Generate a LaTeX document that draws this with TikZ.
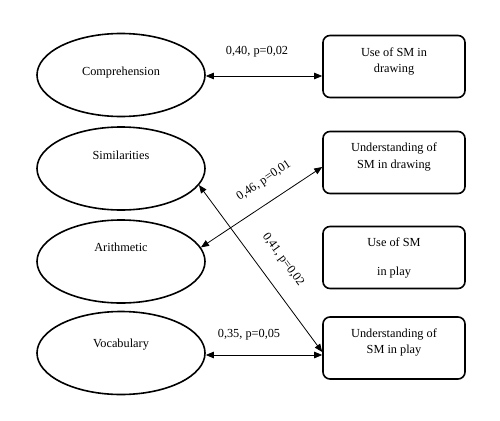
\documentclass[tikz,border=0pt]{standalone}
\usepackage{fontspec}
\setmainfont{Liberation Serif}
\usetikzlibrary{shapes.geometric,arrows.meta}
\begin{document}
\begin{tikzpicture}[x=1pt,y=-1pt,
  oval/.style={draw,line width=1.6pt,ellipse,minimum width=168pt,minimum height=83pt,inner sep=0pt},
  rbox/.style={draw,line width=1.6pt,rounded corners=7pt,minimum width=142pt,minimum height=62pt,inner sep=0pt},
  txt/.style={font=\fontsize{12.3}{16.5}\selectfont,align=center,inner sep=0pt},
  lbl/.style={font=\fontsize{12.3}{14}\selectfont,inner sep=0pt},
  link/.style={line width=0.8pt,{Triangle[length=8pt,width=6.5pt]}-{Triangle[length=8pt,width=6.5pt]}}]
\useasboundingbox (0,0) rectangle (500,420);
% ellipses
\node[oval] (comp) at (121,75) {};
\node[oval] (sim) at (121,168.5) {};
\node[oval] (arith) at (121,261.5) {};
\node[oval] (voc) at (121,353) {};
\node[txt] (compt) at (121,73) {Comprehension};
\node[txt] (simt) at (121,155) {Similarities};
\node[txt] (aritht) at (121,247) {Arithmetic};
\node[txt] (voct) at (121,345) {Vocabulary};
% boxes
\node[rbox] (b1) at (394,66.5) {};
\node[rbox] (b2) at (394,162.5) {};
\node[rbox] (b3) at (394,257.5) {};
\node[rbox] (b4) at (394,348) {};
\node[txt] (b1t) at (394,61.5) {Use of SM in\\drawing};
\node[txt] (b2t) at (394,157) {Understanding of\\SM in drawing};
\node[txt,font=\fontsize{12.3}{29}\selectfont] (b3t) at (394,257.5) {Use of SM\\in play};
\node[txt] (b4t) at (394,342.5) {Understanding of\\SM in play};
% connectors
\draw[link] ([yshift=-1pt]comp.east) -- ([yshift=-1pt]comp.east -| b1.west);
\draw[link] (arith.10) -- ([yshift=-4.5pt]b2.west);
\draw[link] (sim.-12) -- ([yshift=-4pt]b4.west);
\draw[link] ([yshift=-2pt]voc.east) -- ([yshift=-2pt]voc.east -| b4.west);
% labels
\node[lbl] (l1) at (257,52) {0,40, p=0,02};
\node[lbl] (l2) at (249,335) {0,35, p=0,05};
\node[lbl,rotate=34] (l3) at (264,181) {0,46, p=0,01};
\node[lbl,rotate=-54] (l4) at (283,260) {0,41, p=0,02};
\end{tikzpicture}
\end{document}
